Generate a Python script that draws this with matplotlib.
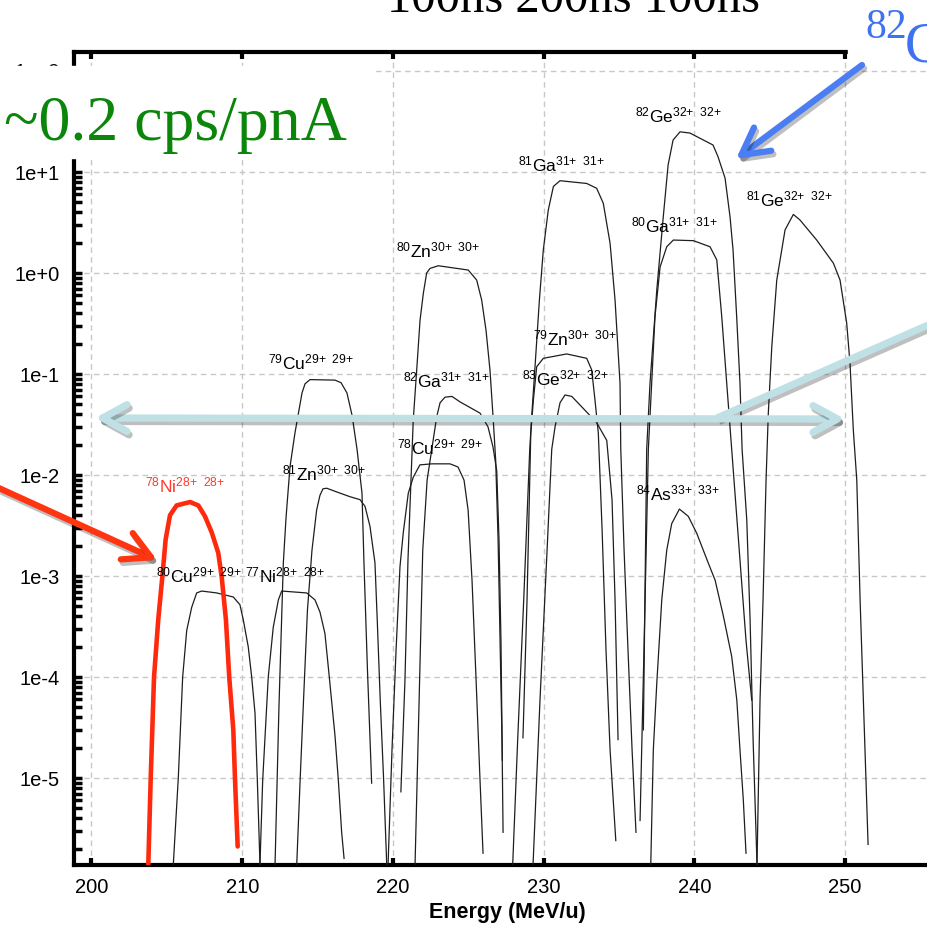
import numpy as np
import matplotlib
matplotlib.use("Agg")
import matplotlib.pyplot as plt
import matplotlib.patheffects as pe
from matplotlib.patches import Rectangle, FancyArrowPatch
from matplotlib.ticker import LogLocator, FixedLocator, NullFormatter, FuncFormatter

plt.rcParams['font.family'] = 'Liberation Sans'
plt.rcParams['mathtext.fontset'] = 'custom'
plt.rcParams['mathtext.rm'] = 'Liberation Sans'
plt.rcParams['mathtext.it'] = 'Liberation Sans:italic'
plt.rcParams['mathtext.bf'] = 'Liberation Sans:bold'

##################################################
##          YIELD CURVES (cps/pnA vs MeV/u)     ##
##################################################

ni78_e = [203.77, 203.93, 204.15, 204.43, 204.70, 204.92, 205.21, 205.65, 206.54, 207.09,
          207.53, 207.98, 208.41, 208.64, 208.92, 209.14, 209.41, 209.52, 209.70]
ni78_y = [1.4e-6, 1.0e-5, 1.0e-4, 3.7e-4, 9.8e-4, 2.3e-3, 4.0e-3, 5.0e-3, 5.4e-3, 5.0e-3,
          3.9e-3, 2.7e-3, 1.7e-3, 9.8e-4, 3.7e-4, 1.0e-4, 3.0e-5, 1.0e-5, 2.1e-6]

cu80_e = [205.43, 205.76, 206.05, 206.32, 206.65, 206.98, 207.31, 208.31, 209.41, 209.85,
          210.07, 210.40, 210.63, 210.85, 211.00, 211.18]
cu80_y = [1.4e-6, 1.0e-5, 1.0e-4, 2.9e-4, 4.9e-4, 6.8e-4, 7.1e-4, 6.8e-4, 6.2e-4, 5.2e-4,
          3.7e-4, 2.0e-4, 1.0e-4, 4.4e-5, 1.0e-5, 1.4e-6]

ni77_e = [211.18, 211.36, 211.73, 212.06, 212.40, 212.62, 214.28, 214.83, 215.16, 215.49,
          215.78, 216.16, 216.38, 216.60, 216.76]
ni77_y = [1.4e-6, 9.5e-6, 1.0e-4, 3.1e-4, 5.8e-4, 7.1e-4, 6.8e-4, 5.8e-4, 4.4e-4, 2.7e-4,
          1.0e-4, 2.6e-5, 9.5e-6, 2.9e-6, 1.6e-6]

cu79_e = [212.18, 212.44, 212.73, 212.91, 213.17, 213.50, 213.97, 214.17, 214.50, 216.16,
          216.56, 216.95, 217.29, 217.62, 217.95, 218.08, 218.31, 218.59]
cu79_y = [1.4e-6, 5.1e-5, 1.35e-3, 3.8e-3, 1.2e-2, 2.6e-2, 6.5e-2, 8.0e-2, 8.8e-2, 8.7e-2,
          8.2e-2, 6.5e-2, 3.9e-2, 1.8e-2, 6.6e-3, 1.35e-3, 1.2e-4, 8.9e-6]

zn81_e = [213.62, 213.85, 214.07, 214.33, 214.63, 214.94, 215.16, 215.36, 215.61, 216.27,
          217.15, 217.82, 218.15, 218.48, 218.81, 218.96, 219.16, 219.38, 219.59]
zn81_y = [1.4e-6, 1.0e-5, 5.9e-5, 4.6e-4, 1.8e-3, 4.5e-3, 6.3e-3, 7.3e-3, 7.4e-3, 6.8e-3,
          6.1e-3, 5.7e-3, 4.9e-3, 3.1e-3, 1.35e-3, 3.7e-4, 5.9e-5, 1.0e-5, 1.4e-6]

zn80_e = [220.53, 220.80, 221.00, 221.25, 221.35, 221.58, 221.80, 222.02, 222.24, 222.46,
          223.01, 225.00, 225.56, 225.89, 226.18, 226.44, 226.66, 226.82, 226.98, 227.11,
          227.24, 227.31]
zn80_y = [7.3e-6, 9.3e-5, 1.44e-3, 1.4e-2, 3.5e-2, 0.11, 0.34, 0.63, 1.0, 1.11,
          1.18, 1.07, 0.85, 0.54, 0.27, 0.11, 3.5e-2, 1.4e-2, 2.3e-3, 2.3e-4,
          2.4e-5, 2.9e-6]

ga82_e = [221.47, 221.74, 221.98, 222.27, 222.58, 222.91, 223.13, 223.46, 223.92, 224.45,
          225.78, 226.31, 226.64, 226.89, 227.04, 227.17, 227.26]
ga82_y = [1.4e-6, 5.9e-5, 1.8e-3, 8.9e-3, 1.8e-2, 3.8e-2, 5.2e-2, 5.9e-2, 6.0e-2, 5.3e-2,
          4.1e-2, 3.0e-2, 1.9e-2, 1.1e-2, 2.3e-3, 2.3e-4, 1.5e-5]

cu78_e = [219.68, 219.94, 220.21, 220.47, 220.69, 221.02, 221.35, 221.79, 222.58, 223.79,
          224.32, 224.72, 224.99, 225.25, 225.52, 225.78, 225.98]
cu78_y = [1.4e-6, 1.9e-5, 1.85e-4, 1.24e-3, 2.7e-3, 6.6e-3, 9.5e-3, 1.26e-2, 1.29e-2, 1.29e-2,
          1.2e-2, 8.9e-3, 4.5e-3, 9.1e-4, 9.3e-5, 9.6e-6, 1.8e-6]

ga81_e = [227.95, 228.28, 228.68, 229.08, 229.21, 229.43, 229.72, 229.98, 230.31, 230.65,
          231.09, 232.86, 233.52, 233.96, 234.41, 234.74, 235.07, 235.12, 235.34, 235.60,
          235.87, 236.13]
ga81_y = [1.4e-6, 2.4e-5, 5.8e-4, 1.8e-2, 3.8e-2, 0.118, 0.54, 1.69, 4.2, 7.2,
          8.2, 7.7, 6.9, 4.9, 1.97, 0.54, 8.1e-2, 1.8e-2, 1.8e-3, 1.85e-4,
          1.9e-5, 2.9e-6]

zn79_e = [228.63, 228.90, 229.15, 229.32, 229.54, 229.98, 231.53, 232.86, 233.19, 233.41,
          233.63, 233.88, 234.14, 234.41, 234.79]
zn79_y = [2.5e-5, 5.8e-4, 2.6e-2, 5.5e-2, 0.118, 0.143, 0.158, 0.143, 0.11, 5.5e-2,
          2.6e-2, 2.9e-3, 1.85e-4, 1.9e-5, 2.4e-6]

ge83_e = [229.30, 229.76, 230.23, 230.54, 230.76, 231.09, 231.42, 231.87, 232.86, 233.52,
          234.19, 234.54, 234.74, 234.94]
ge83_y = [1.4e-6, 5.9e-5, 1.8e-3, 1.8e-2, 3.0e-2, 5.2e-2, 6.2e-2, 6.0e-2, 4.2e-2, 3.3e-2,
          2.2e-2, 5.7e-3, 5.8e-4, 2.4e-5]

ge82_e = [236.62, 236.84, 237.06, 237.51, 237.94, 238.26, 238.59, 239.05, 239.71, 241.24,
          241.57, 242.04, 242.37, 242.57, 242.81, 243.03, 243.17, 243.48, 243.70, 243.90,
          244.16]
ge82_y = [3.0e-5, 1.8e-2, 8.1e-2, 0.68, 3.6, 11.7, 20.7, 25.0, 24.3, 18.5,
          14.2, 8.7, 3.6, 1.69, 0.37, 8.1e-2, 1.8e-2, 3.6e-3, 3.7e-4, 2.4e-5,
          1.4e-6]

ga80_e = [236.40, 236.66, 236.95, 237.17, 237.39, 237.73, 238.17, 238.61, 239.94, 241.04,
          241.49, 241.82, 242.15, 242.48, 243.03, 243.43, 243.81]
ga80_y = [3.8e-6, 1.85e-4, 1.8e-2, 8.1e-2, 0.37, 1.15, 1.82, 2.12, 2.09, 1.82,
          1.35, 0.37, 8.1e-2, 1.8e-2, 1.44e-3, 2.3e-4, 5.9e-5]

as84_e = [237.11, 237.28, 237.51, 237.84, 238.17, 238.50, 239.01, 239.60, 240.16, 240.93,
          241.38, 241.93, 242.48, 242.82, 243.03, 243.25, 243.43]
as84_y = [1.4e-6, 1.9e-5, 8.7e-5, 5.8e-4, 1.8e-3, 3.3e-3, 4.6e-3, 3.9e-3, 2.65e-3, 1.34e-3,
          9.1e-4, 4.0e-4, 1.6e-4, 5.9e-5, 1.9e-5, 6.1e-6, 1.8e-6]

ge81_e = [244.16, 244.36, 244.56, 244.76, 244.91, 245.14, 245.47, 246.02, 246.57, 247.01,
          248.12, 249.23, 249.67, 250.11, 250.33, 250.55, 250.78, 251.00, 251.26, 251.53]
ge81_y = [1.4e-6, 5.9e-5, 5.8e-4, 8.9e-3, 4.1e-2, 0.186, 0.85, 2.67, 3.8, 3.35,
          2.12, 1.25, 0.85, 0.32, 0.128, 2.8e-2, 8.9e-3, 5.8e-4, 3.75e-5, 2.2e-6]

black_curves = [
    (cu80_e, cu80_y), (ni77_e, ni77_y), (cu79_e, cu79_y), (zn81_e, zn81_y),
    (zn80_e, zn80_y), (ga82_e, ga82_y), (cu78_e, cu78_y), (ga81_e, ga81_y),
    (zn79_e, zn79_y), (ge83_e, ge83_y), (ge82_e, ge82_y), (ga80_e, ga80_y),
    (as84_e, as84_y), (ge81_e, ge81_y),
]

# fragment labels: mass, element, charge state, energy, yield (baseline)
lab_mass = [78, 80, 77, 79, 81, 80, 82, 78, 79, 83, 81, 82, 80, 81, 84]
lab_elem = ['Ni', 'Cu', 'Ni', 'Cu', 'Zn', 'Zn', 'Ga', 'Cu', 'Zn', 'Ge', 'Ga', 'Ge', 'Ga', 'Ge', 'As']
lab_q = [28, 29, 28, 29, 30, 30, 31, 29, 30, 32, 31, 32, 31, 32, 33]
lab_e = [203.55, 204.28, 210.19, 211.71, 212.64, 220.21, 220.67, 220.27, 229.29, 228.56,
         228.30, 236.07, 235.80, 243.43, 236.14]
lab_y = [6.8e-3, 8.7e-4, 8.7e-4, 0.11, 8.9e-3, 1.44, 7.3e-2, 1.6e-2, 0.19, 7.8e-2,
         10.2, 31.0, 2.55, 4.6, 5.65e-3]

ytick_vals = [1e-5, 1e-4, 1e-3, 1e-2, 1e-1, 1e0, 1e1, 1e2]
xtick_vals = [200, 210, 220, 230, 240, 250]

##################################################
##                   FIGURE                     ##
##################################################

W, H = 927, 930
fig = plt.figure(figsize=(W / 100, H / 100), dpi=100)
ax = fig.add_axes([74 / W, 65 / H, (935 - 74) / W, (865 - 52) / H])
ax.set_yscale('log')
ax.set_xlim(198.84, 255.97)
ax.set_ylim(1.377e-6, 154.2)

ax.grid(True, which='major', ls=(0, (4, 3)), color='#c8c8c8', lw=1.0)
ax.set_axisbelow(True)

for e, y in black_curves:
    ax.plot(e, y, color='#1e1e1e', lw=0.9, zorder=3)
ax.plot(ni78_e, ni78_y, color='#ff2a0e', lw=3.3, zorder=4,
        solid_capstyle='round', solid_joinstyle='round')

for m, el, q, e, y in zip(lab_mass, lab_elem, lab_q, lab_e, lab_y):
    col = '#ff3a2a' if (m == 78 and el == 'Ni') else 'black'
    ax.text(e, y, f'$^{{{m}}}$' + el + f'$^{{{q}{{+}}\\ \\ {q}{{+}}}}$',
            fontsize=12.5, color=col, ha='left', va='baseline', zorder=5)

for s in ['left', 'bottom', 'top']:
    ax.spines[s].set_linewidth(3.0)
ax.spines['right'].set_visible(False)

ax.xaxis.set_major_locator(FixedLocator(xtick_vals))
ax.yaxis.set_major_locator(FixedLocator(ytick_vals))
ax.yaxis.set_minor_locator(LogLocator(base=10, subs=np.arange(2, 10), numticks=30))
ax.yaxis.set_minor_formatter(NullFormatter())
ax.yaxis.set_major_formatter(FuncFormatter(lambda v, p: f'1e{int(round(np.log10(v))):+d}'))
ax.tick_params(axis='x', which='major', direction='in', length=5, width=3,
               top=True, bottom=True, labelsize=14.5, pad=9)
ax.tick_params(axis='y', which='both', direction='in', length=6, width=2.5,
               left=True, right=False, labelsize=14.5, pad=10)

fig.text(507 / W, 1 - 912 / H, 'Energy (MeV/u)', fontsize=15.5, fontweight='bold',
         ha='center', va='center')

##################################################
##            SLIDE ANNOTATIONS (pixels)        ##
##################################################

ov = fig.add_axes([0, 0, 1, 1], zorder=10)
ov.set_xlim(0, W)
ov.set_ylim(H, 0)
ov.axis('off')
ov.patch.set_alpha(0)

ov.add_patch(Rectangle((0, 66), 375, 92, color='white', zorder=1))
ov.add_patch(Rectangle((848, 0), 90, 62, color='white', zorder=1))

ov.text(387, 12, '100ns 200ns 100ns', family='Liberation Serif', fontsize=35,
        color='black', ha='left', va='baseline', zorder=2)
ov.text(4, 140, '~0.2 cps/pnA', family='Liberation Serif', fontsize=46,
        color='#0b860b', ha='left', va='baseline', zorder=2)
ov.text(865, 38, '82', family='Liberation Serif', fontsize=30,
        color='#3f72ee', ha='left', va='baseline', zorder=2)
ov.text(905, 61, 'Ge', family='Liberation Serif', fontsize=40,
        color='#3f72ee', ha='left', va='baseline', zorder=2)

shadow = [pe.SimpleLineShadow(offset=(1.5, -2.5), shadow_color='k', alpha=0.25), pe.Normal()]

cyan = '#bfe1e5'
ov.plot([717, 935], [418, 322], color=cyan, lw=5.2, solid_capstyle='butt',
        path_effects=shadow, zorder=3)
ov.add_patch(FancyArrowPatch((95, 418), (845, 419),
                             arrowstyle='<->,head_length=1.1,head_width=0.6',
                             mutation_scale=16, lw=5.2, color=cyan,
                             shrinkA=0, shrinkB=0, path_effects=shadow, zorder=4))

ov.add_patch(FancyArrowPatch((-10, 484), (157, 560),
                             arrowstyle='->,head_length=1.2,head_width=0.65',
                             mutation_scale=16, lw=4.5, color='#ff3410',
                             shrinkA=0, shrinkB=0, path_effects=shadow, zorder=4))

ov.add_patch(FancyArrowPatch((862, 65), (736, 159),
                             arrowstyle='->,head_length=1.2,head_width=0.65',
                             mutation_scale=16, lw=4.5, color='#4a7ef2',
                             shrinkA=0, shrinkB=0, path_effects=shadow, zorder=4))

fig.savefig('out.png', dpi=100)
